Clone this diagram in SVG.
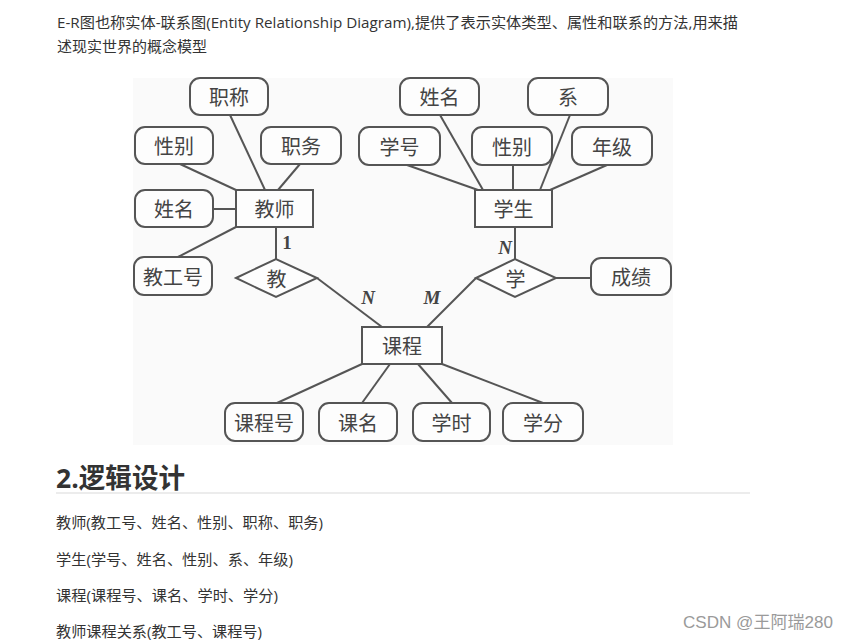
<svg xmlns="http://www.w3.org/2000/svg" width="850" height="640" viewBox="0 0 850 640">
<style>
.txt{font-family:"Open Sans","Noto Sans CJK SC",sans-serif;fill:#333;}
.body{font-size:15px;}
.attr rect{fill:#fdfdfd;stroke:#555;stroke-width:2;}
.ent rect{fill:#fdfdfd;stroke:#555;stroke-width:2;}
.rel polygon{fill:#fdfdfd;stroke:#555;stroke-width:2;}
.lbl{font-family:"Noto Sans CJK SC",sans-serif;font-size:20px;fill:#444;text-anchor:middle;dominant-baseline:central;}
.card{font-family:"Liberation Serif",serif;font-size:19px;font-weight:bold;fill:#444;text-anchor:middle;}
#connectors line{stroke:#555;stroke-width:2;}
</style>
<rect width="850" height="640" fill="#ffffff"/>
<text class="txt body" x="57" y="28" textLength="681" lengthAdjust="spacingAndGlyphs">E-R图也称实体-联系图(Entity Relationship Diagram),提供了表示实体类型、属性和联系的方法,用来描</text>
<text class="txt body" x="57" y="52">述现实世界的概念模型</text>

<rect x="133" y="78" width="540" height="367" fill="#fafafa"/>

<g id="connectors">
<line x1="230" y1="115" x2="265" y2="190"/>
<line x1="180" y1="164" x2="236" y2="190"/>
<line x1="300" y1="164" x2="278" y2="190"/>
<line x1="213" y1="209" x2="236" y2="209"/>
<line x1="178" y1="257" x2="236" y2="227"/>
<line x1="276" y1="227" x2="276" y2="259"/>
<line x1="317" y1="278" x2="382" y2="327"/>
<line x1="476" y1="278" x2="427" y2="327"/>
<line x1="515" y1="227" x2="515" y2="259"/>
<line x1="556" y1="278" x2="591" y2="278"/>
<line x1="407" y1="165" x2="478" y2="190"/>
<line x1="440" y1="115" x2="483" y2="190"/>
<line x1="513" y1="165" x2="513" y2="190"/>
<line x1="570" y1="115" x2="540" y2="190"/>
<line x1="607" y1="165" x2="550" y2="190"/>
<line x1="362" y1="364" x2="277" y2="403"/>
<line x1="390" y1="364" x2="362" y2="403"/>
<line x1="418" y1="364" x2="452" y2="403"/>
<line x1="442" y1="364" x2="543" y2="403"/>
<text class="card" x="287" y="249">1</text>
<text class="card" x="505" y="254" font-style="italic">N</text>
<text class="card" x="368" y="304" font-style="italic">N</text>
<text class="card" x="432" y="304" font-style="italic">M</text>
</g>

<g id="teacher" class="ent"><rect x="236" y="190" width="77" height="37"/><text class="lbl" x="274.5" y="208.5">教师</text></g>
<g id="t_title" class="attr"><rect x="190" y="78" width="78" height="37" rx="10"/><text class="lbl" x="229" y="96.5">职称</text></g>
<g id="t_gender" class="attr"><rect x="135" y="127" width="78" height="37" rx="10"/><text class="lbl" x="174" y="145.5">性别</text></g>
<g id="t_duty" class="attr"><rect x="261" y="127" width="80" height="37" rx="10"/><text class="lbl" x="301" y="145.5">职务</text></g>
<g id="t_name" class="attr"><rect x="135" y="190" width="78" height="37" rx="10"/><text class="lbl" x="174" y="208.5">姓名</text></g>
<g id="t_id" class="attr"><rect x="134" y="257" width="78" height="38" rx="10"/><text class="lbl" x="173" y="276">教工号</text></g>
<g id="teach" class="rel"><polygon points="236,278 276,259 317,278 276,297"/><text class="lbl" x="276.5" y="278">教</text></g>

<g id="student" class="ent"><rect x="475" y="190" width="77" height="37"/><text class="lbl" x="513.5" y="208.5">学生</text></g>
<g id="s_name" class="attr"><rect x="400" y="78" width="79" height="37" rx="10"/><text class="lbl" x="439.5" y="96.5">姓名</text></g>
<g id="s_dept" class="attr"><rect x="528" y="78" width="80" height="37" rx="10"/><text class="lbl" x="568" y="96.5">系</text></g>
<g id="s_id" class="attr"><rect x="359" y="127" width="81" height="38" rx="10"/><text class="lbl" x="399.5" y="146">学号</text></g>
<g id="s_gender" class="attr"><rect x="472" y="127" width="80" height="38" rx="10"/><text class="lbl" x="512" y="146">性别</text></g>
<g id="s_grade" class="attr"><rect x="572" y="127" width="80" height="38" rx="10"/><text class="lbl" x="612" y="146">年级</text></g>
<g id="learn" class="rel"><polygon points="476,278 515,259 556,278 515,297"/><text class="lbl" x="515.5" y="278">学</text></g>
<g id="score" class="attr"><rect x="591" y="258" width="80" height="37" rx="10"/><text class="lbl" x="631" y="276.5">成绩</text></g>

<g id="course" class="ent"><rect x="362" y="327" width="80" height="37"/><text class="lbl" x="402" y="345.5">课程</text></g>
<g id="c_id" class="attr"><rect x="225" y="403" width="78" height="38" rx="10"/><text class="lbl" x="264" y="422">课程号</text></g>
<g id="c_name" class="attr"><rect x="319" y="403" width="78" height="38" rx="10"/><text class="lbl" x="358" y="422">课名</text></g>
<g id="c_hours" class="attr"><rect x="413" y="403" width="77" height="38" rx="10"/><text class="lbl" x="451.5" y="422">学时</text></g>
<g id="c_credit" class="attr"><rect x="503" y="403" width="80" height="38" rx="10"/><text class="lbl" x="543" y="422">学分</text></g>

<text class="txt" x="56" y="488" font-size="27" font-weight="bold" textLength="129" lengthAdjust="spacingAndGlyphs">2.逻辑设计</text>
<rect x="56" y="492" width="694" height="2" fill="#ececec"/>
<text class="txt body" x="56" y="528" textLength="267" lengthAdjust="spacingAndGlyphs">教师(教工号、姓名、性别、职称、职务)</text>
<text class="txt body" x="56" y="565" textLength="237" lengthAdjust="spacingAndGlyphs">学生(学号、姓名、性别、系、年级)</text>
<text class="txt body" x="56" y="601" textLength="222" lengthAdjust="spacingAndGlyphs">课程(课程号、课名、学时、学分)</text>
<text class="txt body" x="56" y="637" textLength="206" lengthAdjust="spacingAndGlyphs">教师课程关系(教工号、课程号)</text>
<text x="683" y="628" font-family="Liberation Sans, Noto Sans CJK SC, sans-serif" font-size="17" fill="#9a9a9a" textLength="150" lengthAdjust="spacingAndGlyphs">CSDN @王阿瑞280</text>
</svg>
